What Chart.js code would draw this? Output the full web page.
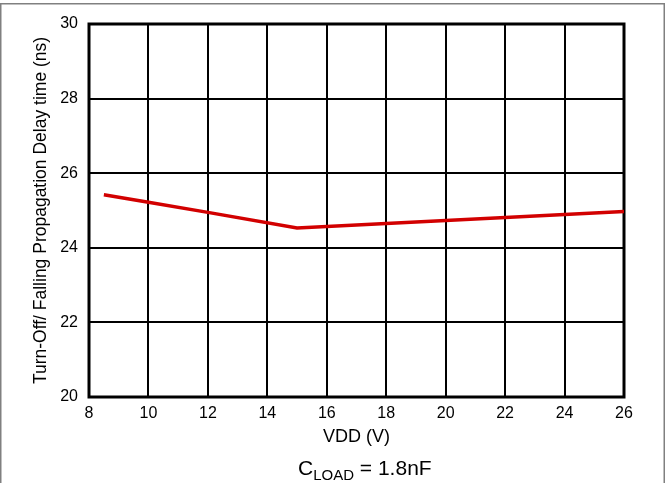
<!DOCTYPE html>
<html><head><meta charset="utf-8">
<script src="https://cdn.jsdelivr.net/npm/chart.js@4/dist/chart.umd.min.js"></script>
<style>html,body{margin:0;padding:0;background:#fff;overflow:hidden}</style>
</head><body>
<canvas id="c" width="666" height="483"></canvas>
<script>
const vdd = [8.5, 10, 12, 15, 20, 24, 26];
const delayNs = [25.42, 25.22, 24.95, 24.53, 24.73, 24.89, 24.97];
const xTicks = [8, 10, 12, 14, 16, 18, 20, 22, 24, 26];
const yTicks = [20, 22, 24, 26, 28, 30];
const xTitle = 'VDD (V)';
const yTitle = 'Turn-Off/ Falling Propagation Delay time (ns)';
const capMain = 'C';
const capSub = 'LOAD';
const capRest = ' = 1.8nF';

const FONT = "'Liberation Sans', Arial, sans-serif";

const framePlugin = {
  id: 'frame',
  beforeDraw(chart) {
    const ctx = chart.ctx;
    ctx.save();
    ctx.fillStyle = '#fff';
    ctx.fillRect(0, 0, chart.width, chart.height);
    ctx.strokeStyle = '#808080';
    ctx.lineWidth = 1.5;
    ctx.beginPath();
    ctx.moveTo(0.75, 483);
    ctx.lineTo(0.75, 3.75);
    ctx.lineTo(664.25, 3.75);
    ctx.lineTo(664.25, 483);
    ctx.stroke();
    ctx.restore();
  },
  beforeDatasetsDraw(chart) {
    const {left, top, right, bottom} = chart.chartArea;
    const ctx = chart.ctx;
    ctx.save();
    ctx.strokeStyle = '#000';
    ctx.lineWidth = 3;
    ctx.strokeRect(left, top, right - left, bottom - top);
    ctx.restore();
  },
  afterDraw(chart) {
    const ctx = chart.ctx;
    ctx.save();
    ctx.fillStyle = '#000';
    ctx.textBaseline = 'alphabetic';
    ctx.textAlign = 'left';
    let x = 298, base = 475;
    ctx.font = '21px ' + FONT;
    ctx.fillText(capMain, x, base);
    x += ctx.measureText(capMain).width;
    ctx.font = '15px ' + FONT;
    ctx.fillText(capSub, x, base + 5);
    x += ctx.measureText(capSub).width;
    ctx.font = '21px ' + FONT;
    ctx.fillText(capRest, x, base);
    ctx.restore();
  }
};

new Chart(document.getElementById('c'), {
  type: 'line',
  data: {
    datasets: [{
      data: vdd.map((v, i) => ({x: v, y: delayNs[i]})),
      borderColor: '#d20000',
      borderWidth: 3.5,
      pointRadius: 0,
      fill: false,
      tension: 0
    }]
  },
  options: {
    responsive: false,
    animation: false,
    devicePixelRatio: 1,
    layout: {padding: {top: 24, right: 42, left: 0, bottom: 0}},
    plugins: {legend: {display: false}, tooltip: {enabled: false}},
    scales: {
      x: {
        type: 'linear',
        min: 8, max: 26,
        afterBuildTicks: s => { s.ticks = xTicks.map(v => ({value: v})); },
        afterFit: s => { s.height = 86; },
        grid: {color: '#000', lineWidth: 2, drawTicks: false},
        border: {display: false},
        ticks: {color: '#000', padding: 7, font: {family: FONT, size: 16}, maxRotation: 0},
        title: {display: true, text: xTitle, color: '#000', font: {family: FONT, size: 18}, padding: {top: 0, bottom: 35}}
      },
      y: {
        min: 20, max: 30,
        afterBuildTicks: s => { s.ticks = yTicks.map(v => ({value: v})); },
        afterFit: s => { s.width = 89; },
        grid: {color: '#000', lineWidth: 2, drawTicks: false},
        border: {display: false},
        ticks: {color: '#000', padding: 11, font: {family: FONT, size: 16}},
        title: {display: true, text: yTitle, color: '#000', font: {family: FONT, size: 17.5}, padding: {top: 31, bottom: 0}}
      }
    }
  },
  plugins: [framePlugin]
});
</script>
</body></html>
